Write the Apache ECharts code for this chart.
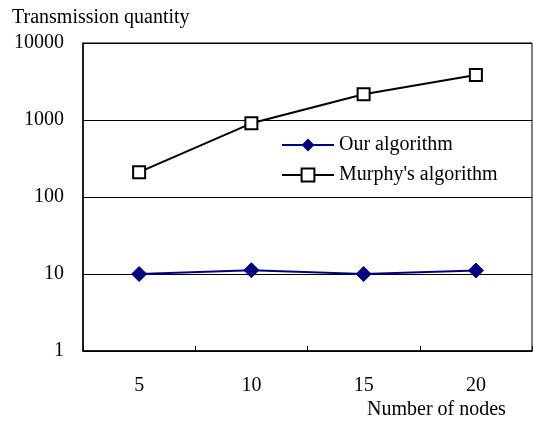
<!DOCTYPE html>
<html>
<head>
<meta charset="utf-8">
<script src="https://cdn.jsdelivr.net/npm/echarts@6/dist/echarts.min.js"></script>
<style>
html,body{margin:0;padding:0;background:#fff;}
#c{width:533px;height:424px;}
</style>
</head>
<body>
<div id="c"></div>
<script>
const categories = ['5', '10', '15', '20'];
const ourAlgorithm = [10, 11.2, 10, 11.1];
const murphyAlgorithm = [210, 905, 2160, 3850];
const yTicks = [1, 10, 100, 1000, 10000];
const seriesNames = ['Our algorithm', "Murphy's algorithm"];
const yTitle = 'Transmission quantity';
const xTitle = 'Number of nodes';

const FONT = '"Liberation Serif", "Times New Roman", serif';
const chart = echarts.init(document.getElementById('c'), null, {renderer: 'canvas'});
chart.setOption({
  animation: false,
  backgroundColor: '#fff',
  textStyle: {fontFamily: FONT},
  grid: {left: 83, right: 1, top: 43, bottom: 73, show: true, borderColor: '#000', borderWidth: 1, backgroundColor: 'transparent'},
  legend: {
    orient: 'vertical', left: 276, top: 129,
    itemWidth: 52, itemHeight: 16, itemGap: 8,
    textStyle: {fontFamily: FONT, fontSize: 20, color: '#000', lineHeight: 22},
    data: seriesNames
  },
  xAxis: {
    type: 'category', data: categories, boundaryGap: true,
    axisLine: {lineStyle: {color: '#000', width: 1.5}},
    axisTick: {show: true, inside: true, length: 5, lineStyle: {color: '#000'}},
    axisLabel: {fontFamily: FONT, fontSize: 20, color: '#000', margin: 25}
  },
  yAxis: {
    type: 'log', logBase: 10, min: yTicks[0], max: yTicks[yTicks.length - 1],
    axisLine: {show: true, lineStyle: {color: '#000', width: 1.5}},
    axisTick: {show: false},
    splitLine: {show: true, lineStyle: {color: '#000', width: 1}},
    axisLabel: {fontFamily: FONT, fontSize: 20, color: '#000', margin: 19, padding: [5, 0, 0, 0],
      formatter: function (v) { return String(Math.round(v)); }}
  },
  graphic: [
    {type: 'text', left: 12, top: 8, style: {text: yTitle, font: '20px ' + FONT, fill: '#000'}},
    {type: 'text', left: 367, top: 400, style: {text: xTitle, font: '20px ' + FONT, fill: '#000'}}
  ],
  series: [
    {
      name: seriesNames[0], type: 'line', data: ourAlgorithm,
      symbol: 'diamond', symbolSize: 15,
      lineStyle: {color: '#000080', width: 2},
      itemStyle: {color: '#000080', borderColor: '#000080'},
      z: 3
    },
    {
      name: seriesNames[1], type: 'line', data: murphyAlgorithm,
      symbol: 'rect', symbolSize: 12,
      lineStyle: {color: '#000', width: 2},
      itemStyle: {color: '#fff', borderColor: '#000', borderWidth: 2},
      z: 3
    }
  ]
});
</script>
</body>
</html>
